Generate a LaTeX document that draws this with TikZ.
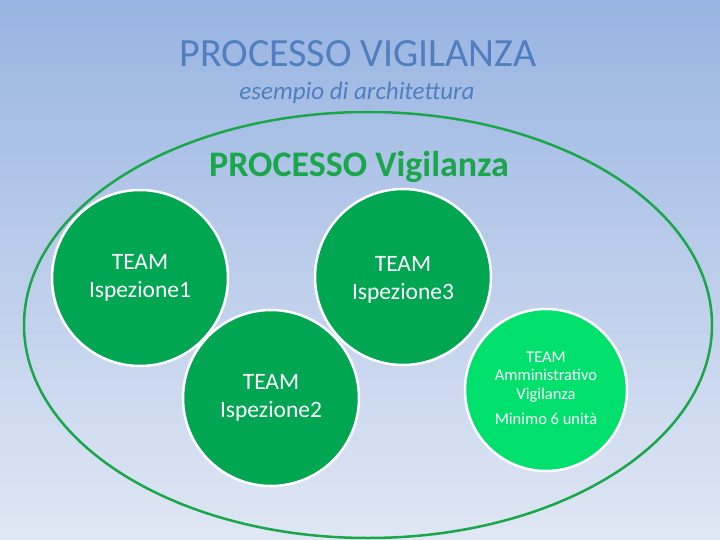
\documentclass[tikz,border=0pt]{standalone}
\usepackage{fontspec}
\setmainfont{Carlito}
\usetikzlibrary{positioning}
\definecolor{bgtop}{HTML}{98B4E2}
\definecolor{bgbottom}{HTML}{E0E7F4}
\definecolor{titleblue}{HTML}{4F7FBF}
\definecolor{procgreen}{HTML}{1AA64A}
\definecolor{teamgreen}{HTML}{00A651}
\definecolor{admingreen}{HTML}{00E06C}
\tikzset{
    team/.style={circle, fill=teamgreen, draw=white, line width=2.5pt, minimum size=176pt, inner sep=0pt}, % the team circles
    admin/.style={team, fill=admingreen, minimum size=162pt},
    teamtext/.style={text=white, align=center, font=\fontsize{23.5}{28}\selectfont},
    admintext/.style={text=white, align=center, font=\fontsize{16.5}{18.5}\selectfont},
}
\begin{document}
\begin{tikzpicture}[x=1pt, y=-1pt]
            \useasboundingbox (0,0) rectangle (720,540);
            \shade[top color=bgtop, bottom color=bgbottom] (0,0) rectangle (720,540);

            \node[text=titleblue, font=\fontsize{40}{44}\selectfont] (TITLE) at (358,54) {PROCESSO VIGILANZA};
            \node[text=titleblue, font=\itshape\fontsize{25}{29}\selectfont] (SUBTITLE) at (357,93) {esempio di architettura};

            \draw[procgreen, line width=2.5pt] (368,325) ellipse [x radius=344, y radius=213];
            \node[text=procgreen, font=\bfseries\fontsize{36}{40}\selectfont] (PROCESS) at (359,167) {PROCESSO Vigilanza};

            \node[team] (ISP1) at (140,278) {};
            \node[team] (ISP3) at (403,277) {};
            \node[team] (ISP2) at (271,398) {};
            \node[admin] (ADMIN) at (546,390) {};

            \node[teamtext] at (ISP1) {TEAM\\Ispezione1};
            \node[teamtext] at ([yshift=-3]ISP3) {TEAM\\Ispezione3};
            \node[teamtext] at (ISP2) {TEAM\\Ispezione2};
            \node[admintext] (ADMINTXT) at ([yshift=13]ADMIN) {TEAM\\Amministrativo\\Vigilanza};
            \node[admintext, below=4pt of ADMINTXT] {Minimo 6 unità};
\end{tikzpicture}
\end{document}
